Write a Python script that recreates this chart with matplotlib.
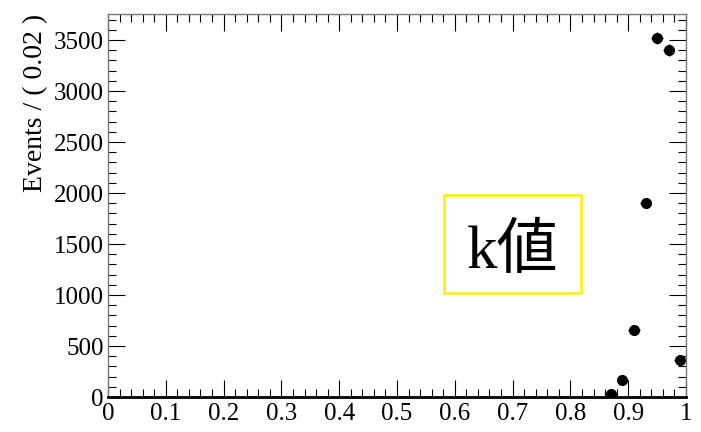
import matplotlib.pyplot as plt
from matplotlib.ticker import MultipleLocator
from matplotlib.patches import Rectangle
import numpy as np

# binned k values, bin width 0.02
bin_centers = [0.87, 0.89, 0.91, 0.93, 0.95, 0.97, 0.99]
counts = [25, 165, 655, 1900, 3520, 3400, 360]
bin_width = 0.02

plt.rcParams['font.family'] = ['Liberation Serif', 'Noto Sans CJK JP']

fig = plt.figure(figsize=(7.01, 4.32), dpi=100)
ax = fig.add_axes([108/701, 1 - 397/432, 578/701, 383/432])

yerr = np.sqrt(counts)
ax.errorbar(bin_centers, counts, xerr=bin_width/2, yerr=yerr, fmt='o',
            color='black', markersize=7, elinewidth=1, capsize=0)

ax.set_xlim(0, 1)
ax.set_ylim(0, 3755)
ax.xaxis.set_major_locator(MultipleLocator(0.1))
ax.xaxis.set_minor_locator(MultipleLocator(0.02))
ax.yaxis.set_major_locator(MultipleLocator(500))
ax.yaxis.set_minor_locator(MultipleLocator(100))
ax.xaxis.set_major_formatter(plt.FuncFormatter(lambda v, p: '%g' % round(v, 2)))

ax.tick_params(which='both', direction='in', top=True, right=True,
               labelsize=18, colors='black')
ax.tick_params(which='major', length=12, width=0.8)
ax.tick_params(which='minor', length=6, width=0.8)
ax.tick_params(axis='x', pad=4)
ax.tick_params(axis='y', pad=3)

for side in ['top', 'left', 'right']:
    ax.spines[side].set_color('#777777')
    ax.spines[side].set_linewidth(1)
ax.spines['bottom'].set_linewidth(2)

ax.set_ylabel('Events / ( 0.02 )', fontsize=20, loc='top', labelpad=4)

# label box
ax.add_patch(Rectangle((0.581, 0.2715), 0.237, 0.256, transform=ax.transAxes,
                       facecolor='white', edgecolor='#ffee00', linewidth=1.8,
                       zorder=3))
ax.text(0.7, 0.377, 'k値', transform=ax.transAxes, fontsize=44,
        ha='center', va='center', zorder=4)

fig.savefig('out.png', dpi=100)
